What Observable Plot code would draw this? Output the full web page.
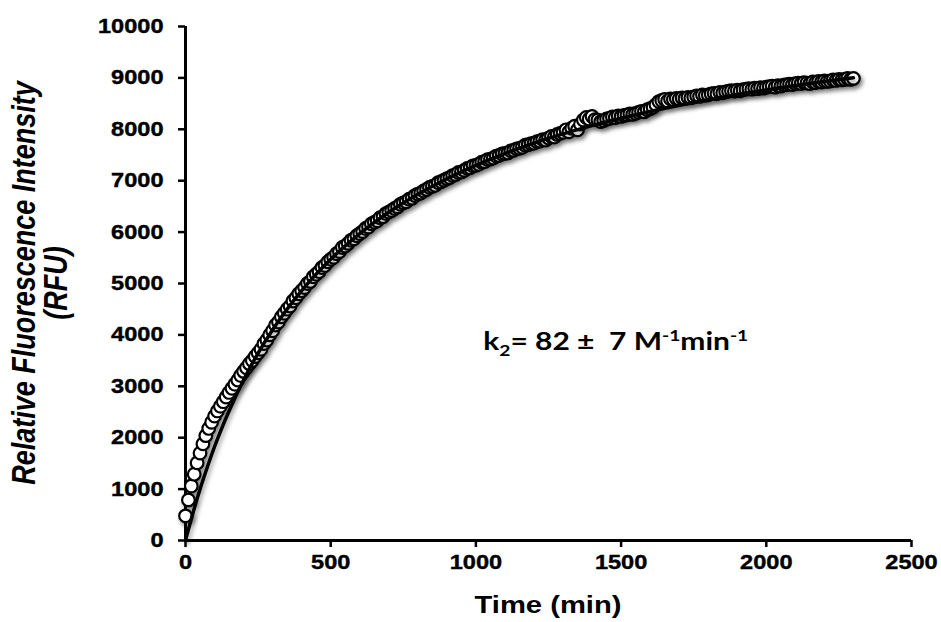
<!DOCTYPE html>
<html>
<head>
<meta charset="utf-8">
<script src="https://cdn.jsdelivr.net/npm/d3@7"></script>
<script src="https://cdn.jsdelivr.net/npm/@observablehq/plot@0.6"></script>
<style>
  html, body { margin: 0; padding: 0; background: #fff; }
</style>
</head>
<body>
<div id="chart"></div>
<script>
// ---- Data ----
const timeMin = [
  0,10,20,30,40,50,60,70,80,90,
  100,110,120,130,140,150,160,170,180,190,
  200,210,220,230,240,250,260,270,280,290,
  300,310,320,330,340,350,360,370,380,390,
  400,410,420,430,440,450,460,470,480,490,
  500,510,520,530,540,550,560,570,580,590,
  600,610,620,630,640,650,660,670,680,690,
  700,710,720,730,740,750,760,770,780,790,
  800,810,820,830,840,850,860,870,880,890,
  900,910,920,930,940,950,960,970,980,990,
  1000,1010,1020,1030,1040,1050,1060,1070,1080,1090,
  1100,1110,1120,1130,1140,1150,1160,1170,1180,1190,
  1200,1210,1220,1230,1240,1250,1260,1270,1280,1290,
  1300,1310,1320,1330,1340,1350,1360,1370,1380,1390,
  1400,1410,1420,1430,1440,1450,1460,1470,1480,1490,
  1500,1510,1520,1530,1540,1550,1560,1570,1580,1590,
  1600,1610,1620,1630,1640,1650,1660,1670,1680,1690,
  1700,1710,1720,1730,1740,1750,1760,1770,1780,1790,
  1800,1810,1820,1830,1840,1850,1860,1870,1880,1890,
  1900,1910,1920,1930,1940,1950,1960,1970,1980,1990,
  2000,2010,2020,2030,2040,2050,2060,2070,2080,2090,
  2100,2110,2120,2130,2140,2150,2160,2170,2180,2190,
  2200,2210,2220,2230,2240,2250,2260,2270,2280,2290,
  2300
];
const rfu = [
  480,790,1060,1290,1510,1700,1880,2040,2180,2300,
  2420,2520,2610,2700,2790,2880,2960,3040,3120,3210,
  3290,3360,3440,3500,3580,3650,3720,3830,3900,4000,
  4080,4190,4250,4350,4420,4500,4560,4660,4720,4800,
  4860,4920,5000,5040,5130,5180,5230,5310,5350,5420,
  5470,5510,5580,5620,5700,5730,5780,5840,5870,5930,
  5970,6010,6070,6100,6160,6190,6220,6280,6300,6360,
  6390,6420,6460,6490,6540,6570,6590,6640,6660,6710,
  6740,6760,6800,6830,6870,6890,6910,6960,6980,7010,
  7040,7060,7100,7120,7160,7170,7200,7240,7250,7290,
  7300,7320,7360,7370,7410,7420,7440,7480,7490,7520,
  7530,7540,7580,7590,7620,7630,7650,7690,7700,7720,
  7730,7760,7770,7800,7790,7830,7860,7850,7900,7920,
  7940,7990,7950,8020,8060,7990,8100,8180,8230,8200,
  8250,8190,8180,8150,8170,8200,8210,8240,8230,8260,
  8250,8270,8280,8300,8290,8310,8330,8350,8340,8380,
  8400,8430,8480,8540,8560,8580,8550,8590,8580,8600,
  8590,8610,8600,8620,8610,8630,8650,8640,8670,8660,
  8670,8690,8700,8690,8720,8710,8730,8740,8750,8740,
  8760,8750,8770,8780,8790,8780,8800,8790,8810,8800,
  8820,8830,8840,8820,8850,8840,8860,8870,8880,8870,
  8890,8900,8890,8910,8900,8890,8920,8910,8930,8920,
  8940,8930,8940,8960,8950,8970,8960,8970,8990,8970,
  8990
];
// fitted curve
const fitTime = [0,10,20,30,50,75,100,150,200,250,300,400,500,600,700,800,900,1000,1200,1400,1600,1800,2000,2200,2300];
const fitRfu  = [0,215,420,620,997,1425,1825,2520,3124,3645,4101,4862,5471,5970,6386,6737,7039,7300,7731,8071,8346,8574,8765,8928,9001];

const xTicks = [0,500,1000,1500,2000,2500];
const yTicks = [0,1000,2000,3000,4000,5000,6000,7000,8000,9000,10000];

const xLabel = "Time (min)";
const yLabel1 = "Relative Fluorescence Intensity";
const yLabel2 = "(RFU)";

const points = timeMin.map((t, i) => ({t, v: rfu[i]}));
const fit = fitTime.map((t, i) => ({t, v: fitRfu[i]}));

const chart = Plot.plot({
  width: 941,
  height: 622,
  marginLeft: 185,
  marginRight: 30,
  marginTop: 26,
  marginBottom: 82,
  style: {
    fontFamily: "'Liberation Sans', Arial, sans-serif",
    fontSize: "20.5px",
    fontWeight: "bold",
    color: "#000",
    background: "#fff",
    overflow: "visible"
  },
  x: {domain: [0, 2500]},
  y: {domain: [0, 10000]},
  marks: [
    Plot.axisX({ticks: xTicks, tickSize: 7, tickPadding: 7, strokeWidth: 2.5, tickFormat: d3.format("d"), label: null}),
    Plot.axisY({ticks: yTicks, tickSize: 7, tickPadding: 15, strokeWidth: 2.5, tickFormat: d3.format("d"), label: null}),
    Plot.ruleX([0], {y1: 0, y2: 10000, stroke: "#000", strokeWidth: 3}),
    Plot.ruleY([0], {x1: 0, x2: 2500, stroke: "#000", strokeWidth: 3}),
    Plot.dot(points, {x: "t", y: "v", r: 6.3, fill: "#fff", stroke: "#000", strokeWidth: 2.2}),
    Plot.line(fit, {x: "t", y: "v", stroke: "#000", strokeWidth: 3.5, curve: "monotone-x"})
  ]
});

document.getElementById("chart").appendChild(chart);

const svg = d3.select(chart);
const STRETCH = 1.15;

// horizontally widen tick labels like the reference
svg.selectAll('g[aria-label="x-axis tick label"] text, g[aria-label="y-axis tick label"] text').each(function() {
  const len = this.getComputedTextLength();
  this.setAttribute("textLength", len * STRETCH);
  this.setAttribute("lengthAdjust", "spacingAndGlyphs");
  this.style.strokeWidth = "0.4px";
  this.style.stroke = "#000";
});

// shadows like the original spreadsheet chart
svg.selectAll('g[aria-label="dot"]').style("filter", "drop-shadow(2px 3px 2px rgba(0,0,0,0.5))");
svg.selectAll('g[aria-label="line"]').style("filter", "drop-shadow(2px 3px 2px rgba(0,0,0,0.35))");

const xs = chart.scale("x"), ys = chart.scale("y");
const cx = (xs.apply(0) + xs.apply(2500)) / 2;
const cy = (ys.apply(0) + ys.apply(10000)) / 2;

// x-axis title
const xt = svg.append("text")
  .attr("x", cx).attr("y", 613)
  .attr("text-anchor", "middle")
  .style("font-family", "'Liberation Sans', Arial, sans-serif")
  .style("font-size", "24px").style("font-weight", "bold")
  .text(xLabel);
xt.attr("textLength", 147).attr("lengthAdjust", "spacingAndGlyphs");

// y-axis title (two lines, rotated)
[[yLabel1, 24], [yLabel2, 56]].forEach(([txt, x]) => {
  svg.append("text")
    .attr("transform", `translate(${x},${cy}) scale(1.2,1) rotate(-90)`)
    .attr("text-anchor", "middle")
    .attr("dominant-baseline", "central")
    .style("font-family", "'Liberation Sans', Arial, sans-serif")
    .style("font-size", "27px").style("font-weight", "bold").style("font-style", "italic")
    .text(txt);
});

// rate constant annotation
const ann = svg.append("text")
  .attr("x", xs.apply(1027)).attr("y", ys.apply(3696))
  .attr("text-anchor", "start")
  .style("font-family", "Lato, 'Open Sans', sans-serif")
  .style("font-size", "25px").style("font-weight", "bold")
  .attr("xml:space", "preserve");
ann.append("tspan").text("k");
ann.append("tspan").attr("dy", 6).style("font-size", "16px").text("2");
ann.append("tspan").attr("dy", -6).text("= 82 \u00b1\u00a0 7 M");
ann.append("tspan").attr("dy", -9).style("font-size", "16px").text("-1");
ann.append("tspan").attr("dy", 9).text("min");
ann.append("tspan").attr("dy", -9).style("font-size", "16px").text("-1");
ann.attr("textLength", 265).attr("lengthAdjust", "spacingAndGlyphs");
</script>
</body>
</html>
